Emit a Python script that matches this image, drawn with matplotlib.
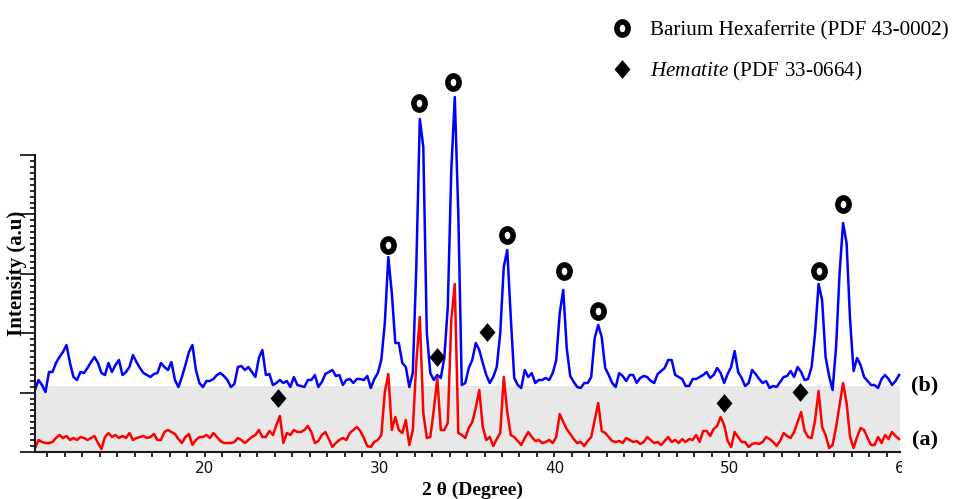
"""
XRD patterns of the two samples, (a) and (b), with phase markers.
"""
import numpy as np
import matplotlib.pyplot as plt
from matplotlib.path import Path
from matplotlib.lines import Line2D
from matplotlib.ticker import FixedLocator, MultipleLocator
from matplotlib.transforms import Bbox, TransformedBbox

plt.rcParams['mathtext.fontset'] = 'custom'
plt.rcParams['mathtext.it'] = 'Liberation Serif:italic'
plt.rcParams['mathtext.rm'] = 'Liberation Serif'

# scan: 10.3 -> 59.7 deg, 0.2 deg step
two_theta = np.round(np.arange(10.3, 59.71, 0.2), 1)

# sample (b) - blue
intensity_b = [
    62, 72, 67, 60, 80, 80, 89, 95, 100, 107, 89, 75, 72, 80, 79, 84, 90, 95, 89, 79,
    77, 89, 80, 87, 92, 77, 80, 85, 97, 90, 84, 79, 77, 75, 78, 79, 89, 85, 82, 90,
    72, 65, 75,
    87, 100, 107, 82, 69, 65, 71, 71, 73, 77, 79, 76, 72, 65, 68, 85, 86, 82, 85, 80,
    75, 94, 102, 77, 78, 67, 69, 72, 69, 71, 65, 75, 67, 66, 65, 72, 72, 77, 65, 70,
    78, 80, 82,
    76, 77, 67, 72, 73, 69, 73, 73, 72, 76, 64, 73, 79, 92, 129, 195, 159, 109, 109, 89,
    85, 65, 79, 185, 333, 305, 119, 79, 72, 77, 74, 94, 145, 282, 355, 239, 67, 69, 84, 92,
    109, 102,
    89, 77, 69, 75, 85, 119, 185, 202, 135, 74, 67, 64, 82, 75, 79, 69, 72, 72, 74, 72,
    79, 92, 139, 162, 104, 76, 70, 65, 64, 69, 69, 75, 114, 127, 115, 84, 77, 69, 65, 79,
    76, 71, 77, 77, 69, 74, 76, 75, 71, 69, 78, 81, 84, 92, 92, 77, 75, 73, 66,
    66, 73, 73, 75, 77, 80, 74, 77, 84, 79, 69, 78, 85, 101, 80, 74, 66, 69, 82, 78,
    73, 69, 71, 64, 66, 65, 70, 75, 76, 81, 75, 85, 80, 72, 73, 85, 119, 168, 152, 95,
    76, 62, 105, 179, 229, 209, 132, 81, 94, 87, 75, 71, 67, 67, 64, 73, 77, 73, 67, 71,
    77,
]

# sample (a) - red
intensity_a = [
    4, 12, 10, 9, 9, 10, 14, 17, 14, 16, 12, 14, 12, 15, 14, 12, 14, 16, 9, 3,
    15, 19, 15, 17, 14, 16, 14, 19, 12, 14, 15, 16, 14, 15, 18, 12, 12, 20, 22, 20,
    18, 13, 9,
    15, 18, 7, 12, 15, 15, 17, 14, 19, 15, 11, 9, 9, 9, 10, 14, 12, 9, 12, 15,
    17, 22, 15, 15, 21, 17, 27, 36, 9, 19, 17, 22, 20, 20, 22, 26, 20, 9, 11, 17,
    20, 13, 5,
    9, 12, 14, 12, 19, 22, 25, 21, 14, 6, 5, 10, 12, 17, 60, 78, 22, 35, 22, 19,
    32, 7, 22, 89, 135, 39, 14, 15, 42, 74, 22, 22, 29, 132, 168, 19, 17, 14, 24, 30,
    44, 62,
    25, 12, 15, 6, 13, 19, 75, 40, 17, 15, 11, 7, 14, 20, 15, 11, 12, 9, 10, 12,
    9, 15, 38, 30, 23, 18, 13, 9, 10, 6, 11, 15, 32, 49, 21, 19, 15, 11, 10, 11,
    9, 14, 12, 10, 11, 8, 10, 15, 12, 9, 10, 7, 11, 15, 10, 12, 9, 13, 10,
    13, 12, 17, 10, 21, 21, 16, 23, 26, 35, 27, 11, 5, 20, 15, 10, 10, 5, 8, 9,
    8, 10, 15, 13, 10, 6, 11, 19, 16, 14, 20, 30, 40, 21, 15, 14, 32, 61, 25, 17,
    4, 7, 25, 47, 69, 49, 15, 4, 15, 24, 22, 14, 7, 7, 15, 9, 17, 13, 20, 16,
    13,
]

# phase markers
hexaferrite_2theta = [30.48, 32.25, 34.19, 37.28, 40.54, 42.48, 55.12, 56.49]
hexaferrite_y = [207, 349, 370, 217, 181, 141, 181, 248]
hematite_2theta = [24.2, 33.28, 36.14, 49.68, 54.03]
hematite_y = [54, 95, 120, 49, 60]

band_top = 66           # top of the grey band behind pattern (a)
y_major = [0, 59.4, 118.8, 178.2, 237.6, 297]

serif = 'Liberation Serif'
x_lo, x_end, x_hi = 10.3, 59.75, 60.0   # plot drawn to x_end, axes run to x_hi

fig = plt.figure(figsize=(9.54, 4.99), dpi=100)
ax = fig.add_axes([35 / 954, 47 / 499, 869.3 / 954, 452 / 499])
ax.set_xlim(x_lo, x_hi)
ax.set_ylim(0, 452)
end_frac = (x_end - x_lo) / (x_hi - x_lo)

ax.axhspan(0, band_top, xmin=0, xmax=end_frac, color='#e8e8e8', zorder=0, lw=0)
ax.plot(two_theta, intensity_b, color='#0000ff', lw=1.8, zorder=2)
ax.plot(two_theta, intensity_a, color='#ff0000', lw=1.8, zorder=2)

# ring and diamond markers
circ = Path.unit_circle()
ring = Path(circ.vertices * [0.85, 1.0], circ.codes)
diamond = Path([(0, 1), (0.85, 0), (0, -1), (-0.85, 0), (0, 1)],
               [Path.MOVETO, Path.LINETO, Path.LINETO, Path.LINETO, Path.CLOSEPOLY])
ring_kw = dict(ls='none', marker=ring, ms=9.5, mfc='white', mec='black', mew=4.0)
dia_kw = dict(ls='none', marker=diamond, ms=13.5, mfc='black', mec='black', mew=0)

ax.plot(hexaferrite_2theta, hexaferrite_y, clip_on=False, zorder=4, **ring_kw)
ax.plot(hematite_2theta, hematite_y, clip_on=False, zorder=4, **dia_kw)

handles = [Line2D([], [], **ring_kw), Line2D([], [], **dia_kw)]
labels = ['Barium Hexaferrite (PDF 43-0002)', r'$\it{Hematite}$ (PDF 33-0664)']
fig.legend(handles, labels, loc='upper left', bbox_to_anchor=(611 / 954, 1 - 21 / 499),
           bbox_transform=fig.transFigure, frameon=False,
           prop={'family': serif, 'size': 15.2}, handlelength=1.0, handletextpad=0.85,
           labelspacing=0.9, borderpad=0, borderaxespad=0)

# axes styling
for side in ['top', 'right']:
    ax.spines[side].set_visible(False)
ax.spines['left'].set_bounds(0, 297)
ax.spines['bottom'].set_bounds(x_lo, x_end)
for side in ['left', 'bottom']:
    ax.spines[side].set_linewidth(1.5)
    ax.spines[side].set_color('#1a1a1a')

ax.xaxis.set_major_locator(MultipleLocator(10))
ax.xaxis.set_minor_locator(MultipleLocator(1))
ax.tick_params(axis='x', which='both', direction='out', length=3.8, width=1.3,
               color='#1a1a1a', pad=2.5, labelsize=11, labelcolor='#111111')

ax.yaxis.set_major_locator(FixedLocator(y_major))
ax.yaxis.set_minor_locator(FixedLocator(np.arange(0, 297.1, 5.94)))
ax.tick_params(axis='y', which='major', direction='out', length=10.8, width=1.3,
               color='#1a1a1a', labelleft=False)
ax.tick_params(axis='y', which='minor', direction='out', length=3.6, width=1.3,
               color='#1a1a1a')

# x ticks and labels clipped just past the end of the plot (the "60" shows half)
clip = TransformedBbox(Bbox([[0, -0.3], [end_frac + 2.5 / 869, 1.0]]), ax.transAxes)
for tick in ax.xaxis.get_major_ticks() + ax.xaxis.get_minor_ticks():
    for art in (tick.tick1line, tick.label1):
        art.set_clip_box(clip)
        art.set_clip_on(True)
for lbl in ax.get_xticklabels():
    lbl.set_family(['Liberation Sans Narrow', 'DejaVu Sans'])

fig.text(17 / 954, 1 - 273 / 499, 'Intensity (a.u)', rotation=90, ha='center', va='center',
         family=serif, fontweight='bold', fontsize=15)
fig.text(473 / 954, 4 / 499, '2 θ (Degree)', ha='center', va='baseline',
         family=serif, fontweight='bold', fontsize=14)
fig.text(925 / 954, 1 - 385 / 499, '(b)', ha='center', va='center',
         family=serif, fontweight='bold', fontsize=16)
fig.text(925 / 954, 1 - 440 / 499, '(a)', ha='center', va='center',
         family=serif, fontweight='bold', fontsize=16)

fig.savefig('out.png', dpi=100)
